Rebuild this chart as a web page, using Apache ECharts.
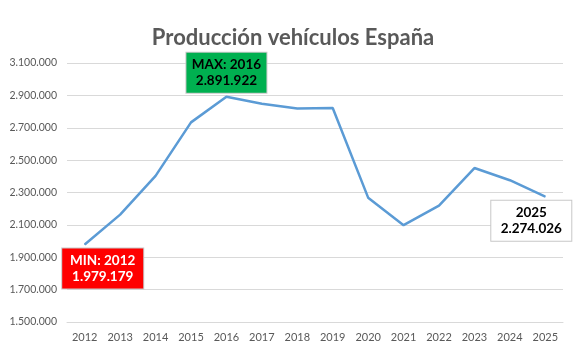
<!DOCTYPE html>
<html>
<head>
<meta charset="utf-8">
<script src="https://cdn.jsdelivr.net/npm/echarts@6/dist/echarts.min.js"></script>
<style>html,body{margin:0;padding:0;background:#fff}#c{width:586px;height:358px}</style>
</head>
<body>
<div id="c"></div>
<script>
const years = ['2012','2013','2014','2015','2016','2017','2018','2019','2020','2021','2022','2023','2024','2025'];
const production = [1979179, 2163338, 2402978, 2733201, 2891922, 2848335, 2819565, 2822360, 2268185, 2098133, 2219462, 2451221, 2376000, 2274026];
const yTicks = [1500000, 1700000, 1900000, 2100000, 2300000, 2500000, 2700000, 2900000, 3100000];
const titleText = 'Producción vehículos España';

function fmt(v) { return String(v).replace(/\B(?=(\d{3})+(?!\d))/g, '.'); }

const minIdx = production.indexOf(Math.min(...production));
const maxIdx = production.indexOf(Math.max(...production));
const lastIdx = production.length - 1;

const baseLabel = {
  show: true,
  fontFamily: 'Lato',
  fontWeight: 'bold',
  fontSize: 13.5,
  lineHeight: 16,
  align: 'center',
  padding: [4, 4],
  borderColor: '#c8c8c8',
  borderWidth: 1
};

const data = production.map((v, i) => {
  if (i === minIdx) {
    return { value: v, label: Object.assign({}, baseLabel, {
      position: 'inside', offset: [18, 24], width: 73,
      backgroundColor: '#ff0000', color: '#ffffff',
      formatter: () => 'MIN: ' + years[i] + '\n' + fmt(v) }) };
  }
  if (i === maxIdx) {
    return { value: v, label: Object.assign({}, baseLabel, {
      position: 'inside', offset: [0, -24], width: 72,
      backgroundColor: '#00b050', color: '#000000',
      formatter: () => 'MAX: ' + years[i] + '\n' + fmt(v) }) };
  }
  if (i === lastIdx) {
    return { value: v, label: Object.assign({}, baseLabel, {
      position: 'inside', offset: [-14, 24], width: 72,
      backgroundColor: '#ffffff', color: '#000000',
      formatter: () => years[i] + '\n' + fmt(v) }) };
  }
  return v;
});

const chart = echarts.init(document.getElementById('c'));
chart.setOption({
  animation: false,
  backgroundColor: '#ffffff',
  title: {
    text: titleText,
    left: 'center',
    top: 22,
    textStyle: { fontFamily: 'Lato', fontWeight: 'bold', fontSize: 22, color: '#595959' }
  },
  grid: { left: 67, right: 23, top: 63, bottom: 36 },
  xAxis: {
    type: 'category',
    data: years,
    boundaryGap: true,
    axisLine: { show: true, lineStyle: { color: '#d9d9d9', width: 1 } },
    axisTick: { show: false },
    axisLabel: { color: '#595959', fontFamily: 'Lato', fontSize: 11, margin: 10 }
  },
  yAxis: {
    type: 'value',
    min: yTicks[0],
    max: yTicks[yTicks.length - 1],
    interval: yTicks[1] - yTicks[0],
    axisLine: { show: false },
    axisTick: { show: false },
    splitLine: { lineStyle: { color: '#d9d9d9', width: 1 } },
    axisLabel: { color: '#595959', fontFamily: 'Lato', fontSize: 10.5, margin: 10, formatter: v => fmt(v) }
  },
  series: [{
    type: 'line',
    data: data,
    symbol: 'circle',
    symbolSize: 1,
    showSymbol: true,
    itemStyle: { color: '#5b9bd5' },
    lineStyle: { color: '#5b9bd5', width: 2.5 },
    z: 3
  }]
});
</script>
</body>
</html>
